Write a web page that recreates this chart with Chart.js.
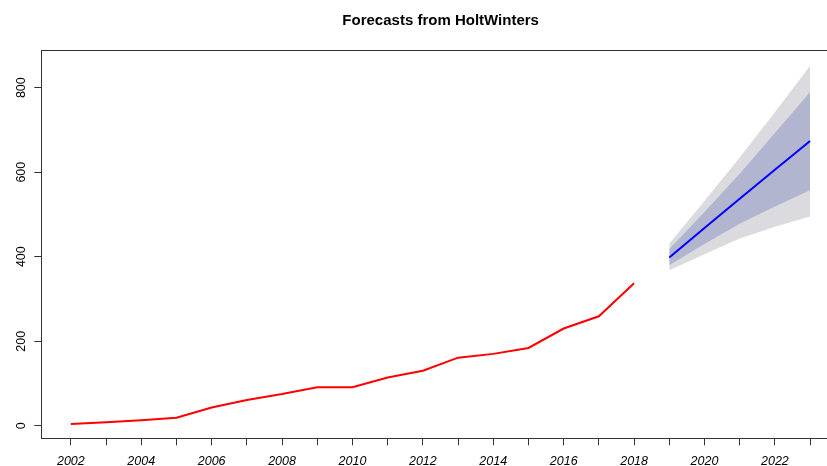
<!DOCTYPE html>
<html>
<head>
<meta charset="utf-8">
<script src="https://cdn.jsdelivr.net/npm/chart.js@4"></script>
<style>
  html, body { margin: 0; padding: 0; overflow: hidden; background: #fff; }
  #wrap { width: 840px; height: 466px; position: relative; }
</style>
</head>
<body>
<div id="wrap"><canvas id="c"></canvas></div>
<script>
// Observed series (annual)
const histYears = [2002,2003,2004,2005,2006,2007,2008,2009,2010,2011,2012,2013,2014,2015,2016,2017,2018];
const histValues = [4,8,13,19,43,61,75,91,91,114,130,161,170,184,230,259,337];

// HoltWinters forecasts
const fcYears = [2019,2020,2021,2022,2023];
const fcMean  = [398,468,537,606,674];
const fcLo80  = [380,430,478,519,557];
const fcHi80  = [418,506,596,693,790];
const fcLo95  = [368,406,443,471,495];
const fcHi95  = [431,532,635,742,852];

// Axis ticks
const xTickYears = [2002,2003,2004,2005,2006,2007,2008,2009,2010,2011,2012,2013,2014,2015,2016,2017,2018,2019,2020,2021,2022,2023];
const yTickValues = [0,200,400,600,800];

const pts = (xs, ys) => xs.map((x, i) => ({x: x, y: ys[i]}));

const axisColor = '#333333';
const fontFam = "'Liberation Sans', Arial, sans-serif";

new Chart(document.getElementById('c'), {
  type: 'line',
  data: {
    datasets: [
      { label: 'forecast', data: pts(fcYears, fcMean), borderColor: '#0000FF', borderWidth: 2, pointRadius: 0, fill: false, order: 0, tension: 0 },
      { label: 'observed', data: pts(histYears, histValues), borderColor: '#FF0000', borderWidth: 2, pointRadius: 0, fill: false, order: 1, tension: 0 },
      { label: 'hi80', data: pts(fcYears, fcHi80), borderWidth: 0, borderColor: 'rgba(0,0,0,0)', pointRadius: 0, backgroundColor: '#B1B5CF', fill: '+1', order: 2 },
      { label: 'lo80', data: pts(fcYears, fcLo80), borderWidth: 0, borderColor: 'rgba(0,0,0,0)', pointRadius: 0, fill: false, order: 3 },
      { label: 'hi95', data: pts(fcYears, fcHi95), borderWidth: 0, borderColor: 'rgba(0,0,0,0)', pointRadius: 0, backgroundColor: '#DBDBDF', fill: '+1', order: 4 },
      { label: 'lo95', data: pts(fcYears, fcLo95), borderWidth: 0, borderColor: 'rgba(0,0,0,0)', pointRadius: 0, fill: false, order: 5 }
    ]
  },
  options: {
    responsive: true,
    maintainAspectRatio: false,
    animation: false,
    layout: { padding: 0 },
    plugins: {
      legend: { display: false },
      tooltip: { enabled: false },
      title: {
        display: true,
        text: 'Forecasts from HoltWinters',
        fullSize: false,
        color: '#000',
        font: { family: fontFam, size: 15, weight: 'bold', lineHeight: 1.2 },
        padding: { top: 12, bottom: 20.7 }
      }
    },
    scales: {
      x: {
        type: 'linear',
        position: 'bottom',
        min: 2001.16,
        max: 2023.85,
        afterBuildTicks: s => { s.ticks = xTickYears.map(v => ({ value: v })); },
        afterFit: s => { s.height = 27.7; },
        grid: { drawOnChartArea: false, drawTicks: true, tickLength: 7, tickColor: axisColor, tickWidth: 1 },
        border: { display: true, color: axisColor, width: 1 },
        ticks: {
          autoSkip: false, maxRotation: 0, minRotation: 0, padding: 9,
          color: '#000',
          font: { family: fontFam, size: 12.5, style: 'italic' },
          callback: v => (v % 2 === 0 ? String(v) : '')
        }
      },
      xTop: {
        type: 'linear',
        position: 'top',
        min: 2001.16,
        max: 2023.85,
        afterFit: s => { s.height = 0; },
        grid: { display: false, drawTicks: false },
        border: { display: true, color: axisColor, width: 1 },
        ticks: { display: false }
      },
      y: {
        type: 'linear',
        position: 'left',
        min: -29.8,
        max: 887.5,
        afterBuildTicks: s => { s.ticks = yTickValues.map(v => ({ value: v })); },
        afterFit: s => { s.width = 41.3; },
        grid: { drawOnChartArea: false, drawTicks: true, tickLength: 7, tickColor: axisColor, tickWidth: 1 },
        border: { display: true, color: axisColor, width: 1 },
        ticks: {
          minRotation: 90, maxRotation: 90, crossAlign: 'center', padding: 2,
          color: '#000',
          font: { family: fontFam, size: 12.5 },
          callback: v => String(v)
        }
      }
    }
  }
});
</script>
</body>
</html>
